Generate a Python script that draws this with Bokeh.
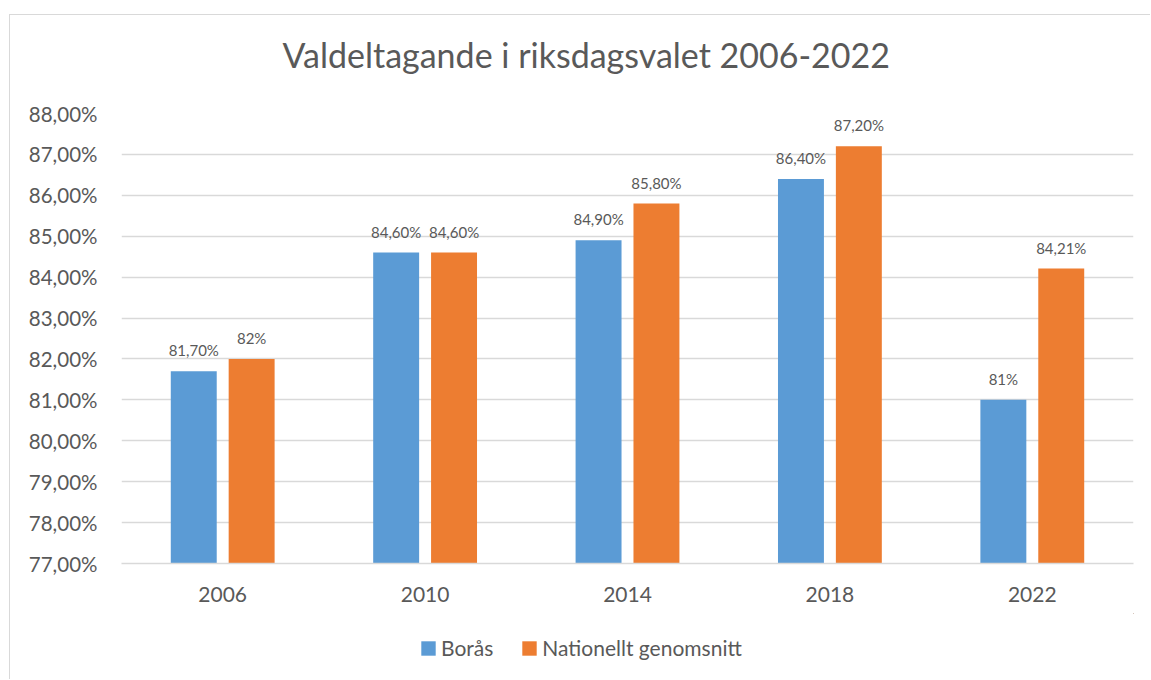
from bokeh.plotting import figure
from bokeh.layouts import column
from bokeh.models import (ColumnDataSource, FactorRange, Range1d, FixedTicker,
                          Legend, LegendItem, Label)
from bokeh.transform import dodge
from bokeh.core.properties import value
from bokeh.embed import file_html
from bokeh.resources import INLINE

years = ["2006", "2010", "2014", "2018", "2022"]
boras = [81.7, 84.6, 84.9, 86.4, 81.0]
national = [82.0, 84.6, 85.8, 87.2, 84.21]
boras_labels = ["81,70%", "84,60%", "84,90%", "86,40%", "81%"]
national_labels = ["82%", "84,60%", "85,80%", "87,20%", "84,21%"]
y_ticks = [77, 78, 79, 80, 81, 82, 83, 84, 85, 86, 87, 88]
series_names = ["Borås", "Nationellt genomsnitt"]
title_text = "Valdeltagande i riksdagsvalet 2006-2022"

FONT = "Lato"
TEXT_COLOR = "#595959"
GRID_COLOR = "#d9d9d9"
BLUE = "#5B9BD5"
ORANGE = "#ED7D31"
Y0 = y_ticks[0]
W = 1140

src = ColumnDataSource(dict(year=years, boras=boras, national=national,
                            bl=boras_labels, nl=national_labels,
                            base=[Y0] * len(years)))

# ---- title strip ----
pt = figure(width=W, height=78, x_range=Range1d(0, 1), y_range=Range1d(0, 1),
            x_axis_location=None, y_axis_location=None,
            output_backend="svg", toolbar_location=None,
            min_border=0, margin=0)
pt.outline_line_color = None
pt.grid.visible = False
pt.add_layout(Label(x=161, y=39, x_units="screen", y_units="screen",
                    text=title_text, text_align="left", text_baseline="alphabetic",
                    text_font=FONT, text_font_size="34px", text_color=TEXT_COLOR))

# ---- main chart ----
p = figure(x_range=FactorRange(*years, range_padding=0),
           y_range=Range1d(Y0, y_ticks[-1]),
           frame_width=1012, frame_height=450,
           output_backend="svg", toolbar_location=None,
           min_border_left=111, min_border_right=17, min_border_top=20,
           min_border_bottom=50, margin=0)

p.outline_line_color = None
p.xgrid.grid_line_color = None
p.ygrid.grid_line_color = GRID_COLOR
p.ygrid.grid_line_width = 1.3

p.yaxis.ticker = FixedTicker(ticks=y_ticks)
p.yaxis.major_label_overrides = {t: f"{t},00%" for t in y_ticks}
p.yaxis.axis_line_color = None
p.yaxis.major_tick_line_color = None
p.yaxis.minor_tick_line_color = None
p.yaxis.major_label_text_font = FONT
p.yaxis.major_label_text_font_size = "20.5px"
p.yaxis.major_label_text_color = TEXT_COLOR
p.yaxis.major_label_standoff = 18

p.xaxis.axis_line_color = GRID_COLOR
p.xaxis.axis_line_width = 1.3
p.xaxis.major_tick_line_color = None
p.xaxis.minor_tick_line_color = None
p.xaxis.major_label_text_font = FONT
p.xaxis.major_label_text_font_size = "21px"
p.xaxis.major_label_text_color = TEXT_COLOR
p.xaxis.major_label_standoff = 17

off = 0.143
bw = 0.227
p.vbar(x=dodge("year", -off, range=p.x_range), top="boras", bottom="base",
       width=bw, color=BLUE, line_color=None, source=src)
p.vbar(x=dodge("year", off, range=p.x_range), top="national", bottom="base",
       width=bw, color=ORANGE, line_color=None, source=src)

for col, lab, o in (("boras", "bl", -off), ("national", "nl", off)):
    p.text(x=dodge("year", o, range=p.x_range), y=col, text=lab, source=src,
           text_align="center", text_baseline="alphabetic", y_offset=-21,
           text_font=value(FONT), text_font_size="15px", text_color=TEXT_COLOR)

# ---- legend strip ----
pl = figure(width=W, height=66, x_range=Range1d(0, 1), y_range=Range1d(0, 1),
            x_axis_location=None, y_axis_location=None,
            output_backend="svg", toolbar_location=None,
            min_border=0, margin=0)
pl.outline_line_color = None
pl.grid.visible = False
# legend keys: same series, plotted outside this strip's visible range
k1 = pl.vbar(x="boras", top="boras", bottom="base", width=0.1, source=src,
             color=BLUE, line_color=None)
k2 = pl.vbar(x="national", top="national", bottom="base", width=0.1, source=src,
             color=ORANGE, line_color=None)
legend = Legend(items=[LegendItem(label=series_names[0], renderers=[k1]),
                       LegendItem(label=series_names[1], renderers=[k2])],
                orientation="horizontal", location=(298, 19),
                glyph_width=18, glyph_height=18, label_standoff=4, spacing=27,
                padding=0, margin=0, border_line_color=None,
                background_fill_alpha=0,
                label_text_font=FONT, label_text_font_size="21px",
                label_text_color=TEXT_COLOR)
pl.add_layout(legend, "center")

layout = column(pt, p, pl, spacing=0, margin=(14, 0, 0, 9),
                styles={"border-left": "1px solid #d9d9d9",
                        "border-top": "1px solid #d9d9d9"})

open("out.html", "w").write(file_html(layout, INLINE))
